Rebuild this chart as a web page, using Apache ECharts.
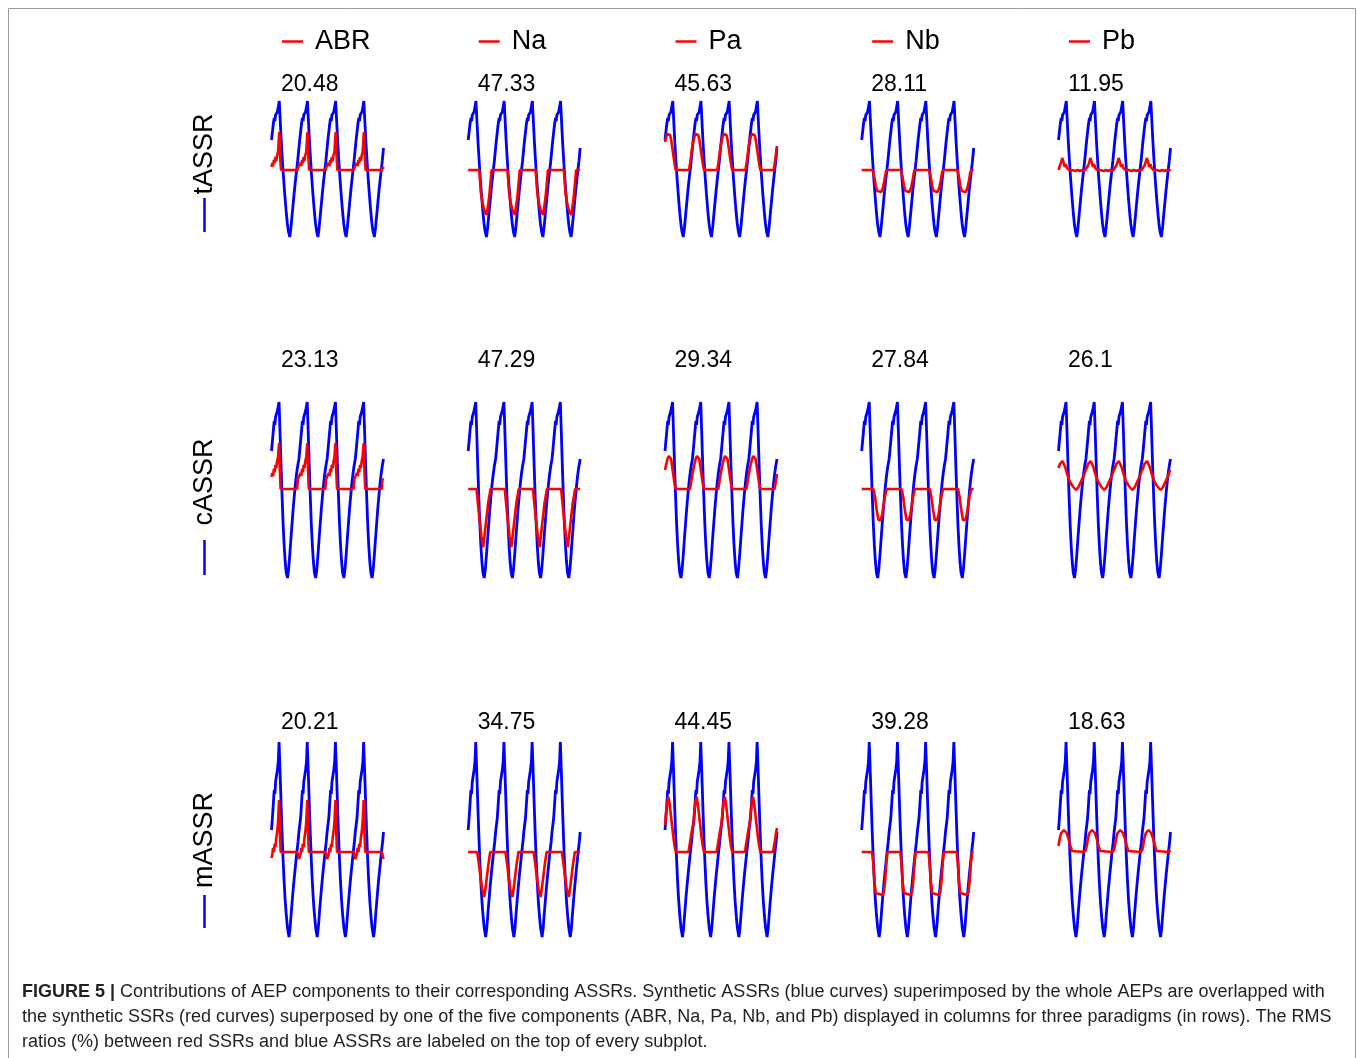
<!DOCTYPE html>
<html lang="en">
<head>
<meta charset="UTF-8">
<title>Figure 5</title>
<script src="https://cdn.jsdelivr.net/npm/echarts/dist/echarts.min.js"></script>
<style>body{margin:0;background:#fff;}</style>
</head>
<body>
<div id="graph" style="width:1357px;height:1058px;"></div>
<script>
// one 40 Hz cycle = 25 ms, each curve is [phase in ms, amplitude]
var components = ['ABR', 'Na', 'Pa', 'Nb', 'Pb'];
var paradigms = ['tASSR', 'cASSR', 'mASSR'];
var rmsRatios = [
    ['20.48', '47.33', '45.63', '28.11', '11.95'],
    ['23.13', '47.29', '29.34', '27.84', '26.1'],
    ['20.21', '34.75', '44.45', '39.28', '18.63']
];
var cycleCount = 4;
var cycleLength = 25;

// blue: synthetic ASSR of each paradigm
var blueT = [[0,0.30],[0.8,0.38],[1.6,0.46],[2.4,0.52],[3.0,0.49],[3.6,0.55],[4.4,0.53],[5.2,0.58],[6.0,0.60],[6.9,0.69],[7.8,0.48],[8.7,0.28],[9.6,0.11],[10.5,-0.05],[11.4,-0.19],[12.3,-0.32],[13.2,-0.44],[14.1,-0.54],[15.1,-0.62],[16.2,-0.67],[17.2,-0.58],[18.2,-0.46],[19.2,-0.34],[20.2,-0.22],[21.2,-0.11],[22.2,-0.01],[23.2,0.09],[24.3,0.22]];
var blueC = [[0,0.38],[0.8,0.48],[1.6,0.58],[2.4,0.68],[3.0,0.64],[3.6,0.72],[4.4,0.70],[5.2,0.78],[6.0,0.80],[6.7,0.87],[7.6,0.55],[8.5,0.22],[9.4,-0.08],[10.3,-0.35],[11.2,-0.56],[12.1,-0.72],[13.1,-0.84],[14.2,-0.89],[15.2,-0.80],[16.2,-0.66],[17.2,-0.50],[18.2,-0.35],[19.2,-0.20],[20.2,-0.07],[21.2,0.05],[22.2,0.15],[23.2,0.23],[24.3,0.30]];
var blueM = [[0,0.22],[0.8,0.34],[1.6,0.48],[2.4,0.62],[3.0,0.58],[3.6,0.70],[4.4,0.68],[5.2,0.82],[6.0,0.90],[6.7,1.10],[7.6,0.80],[8.5,0.48],[9.4,0.18],[10.3,-0.08],[11.2,-0.30],[12.1,-0.48],[13.1,-0.63],[14.2,-0.76],[15.5,-0.85],[16.5,-0.76],[17.5,-0.61],[18.5,-0.47],[19.5,-0.34],[20.5,-0.22],[21.5,-0.11],[22.5,0.0],[23.5,0.10],[24.3,0.20]];

// red: synthetic SSR with one component, tASSR row
var tAbr = [[0,0.03],[0.7,0.07],[1.4,0.04],[2.1,0.10],[2.8,0.07],[3.5,0.13],[4.2,0.09],[5.0,0.15],[5.8,0.18],[6.9,0.38],[7.6,0.15],[8.4,0],[23.0,0],[23.7,0.03],[24.3,0.01]];
var tNa = [[0,0],[9.8,0],[11.3,-0.23],[12.7,-0.33],[14.2,-0.40],[16.4,-0.45],[18.6,-0.27],[20.7,0],[24.3,0]];
var tPa = [[0,0.28],[1,0.33],[2,0.36],[3.3,0.38],[4.5,0.35],[5.5,0.30],[6.5,0.22],[7.5,0.14],[8.5,0.06],[9.5,0],[21.3,0],[22.3,0.07],[23.3,0.15],[24.3,0.24]];
var tNb = [[0,0],[9.8,0],[11.2,-0.07],[12.5,-0.16],[13.8,-0.21],[15.5,-0.23],[17.3,-0.22],[18.7,-0.18],[20,-0.11],[21.2,-0.03],[22.2,0],[24.3,0]];
var tPb = [[0,0],[1.5,0.05],[3.3,0.12],[4.4,0.08],[5.5,0.03],[6.5,0.06],[7.5,0.02],[8.5,0.04],[9.5,0],[10.5,0.02],[12,0],[13.5,0.01],[15,-0.01],[17,0],[19,-0.01],[21,0],[22.5,-0.01],[23.7,0],[24.3,-0.01]];

// cASSR row
var cAbr = [[0,0.12],[0.7,0.16],[1.4,0.13],[2.1,0.20],[2.8,0.17],[3.5,0.24],[4.2,0.21],[5.0,0.28],[5.8,0.32],[6.7,0.46],[7.4,0.18],[8.1,0],[22.7,0],[23.4,0.10],[24.3,0.09]];
var cNa = [[0,0],[7.4,0],[8.6,-0.14],[9.8,-0.28],[11.8,-0.48],[13.3,-0.58],[15.7,-0.34],[17.7,-0.14],[19.8,0],[24.3,0]];
var cPa = [[0,0.19],[1.1,0.25],[2.2,0.30],[3.3,0.33],[4.4,0.34],[5.4,0.30],[6.4,0.22],[7.4,0.14],[8.4,0.06],[9.5,0],[22.2,0],[23.2,0.07],[24.3,0.15]];
var cNb = [[0,0],[10.4,0],[11.8,-0.08],[13.3,-0.21],[14.8,-0.31],[16.8,-0.31],[18,-0.26],[19.2,-0.18],[20.7,-0.07],[22.2,0],[24.3,0]];
var cPb = [[0,0.21],[1.2,0.25],[2.4,0.27],[3.5,0.28],[4.7,0.26],[5.9,0.22],[7.1,0.17],[8.3,0.13],[9.5,0.09],[10.7,0.06],[11.9,0.04],[13.1,0.02],[14.3,0.0],[15.5,-0.01],[16.5,0.0],[17.7,0.02],[18.9,0.05],[20.1,0.08],[21.3,0.11],[22.5,0.14],[23.4,0.17],[24.3,0.19]];

// mASSR row
var mAbr = [[0,-0.06],[0.7,-0.02],[1.4,0.04],[2.1,0.0],[2.8,0.08],[3.5,0.05],[4.2,0.14],[5.0,0.20],[5.8,0.30],[6.7,0.52],[7.4,0.20],[8.1,0],[22.7,0],[23.5,-0.03],[24.3,-0.07]];
var mNa = [[0,0],[8,0],[9.5,-0.12],[11,-0.26],[12.5,-0.38],[14.2,-0.45],[15.8,-0.32],[17.5,-0.16],[19.5,0],[24.3,0]];
var mPa = [[0,0.27],[1,0.40],[2,0.50],[3.1,0.55],[4.2,0.47],[5.3,0.36],[6.4,0.25],[7.5,0.14],[8.6,0.05],[9.6,0],[20.8,0],[21.8,0.07],[22.8,0.14],[23.6,0.20],[24.3,0.24]];
var mNb = [[0,0],[9.2,0],[10.3,-0.12],[11.3,-0.30],[12.4,-0.41],[14,-0.43],[15.5,-0.42],[17,-0.44],[18.5,-0.43],[19.7,-0.40],[20.8,-0.28],[21.8,-0.12],[22.8,0],[24.3,0]];
var mPb = [[0,0.06],[1.2,0.14],[2.4,0.19],[3.6,0.21],[4.8,0.22],[6,0.21],[7.2,0.19],[8.4,0.15],[9.6,0.10],[10.8,0.05],[12,0.01],[13,0],[22.5,0],[23.5,0],[24.3,0.02]];

var blueCurves = [blueT, blueC, blueM];
var redCurves = [
    [tAbr, tNa, tPa, tNb, tPb],
    [cAbr, cNa, cPa, cNb, cPb],
    [mAbr, mNa, mPa, mNb, mPb]
];

// layout
var font = 'Liberation Sans, Arial, Helvetica, sans-serif';
var colLeft = [271.5, 468.2, 665, 861.7, 1058.5];
var plotWidth = 112;
var rows = [
    {top: 100, height: 140, min: -0.70, max: 0.70, labelTop: 73},
    {top: 399, height: 180, min: -0.90, max: 0.90, labelTop: 349},
    {top: 737, height: 203, min: -0.88, max: 1.15, labelTop: 711}
];
var rowLabelPos = [
    {y: 154, line: [198, 232]},
    {y: 482, line: [540, 575]},
    {y: 840, line: [895, 928]}
];

function repeatCycle(cycle) {
    var out = [];
    for (var k = 0; k < cycleCount; k++) {
        for (var i = 0; i < cycle.length; i++) {
            out.push([k * cycleLength + cycle[i][0], cycle[i][1]]);
        }
    }
    return out;
}

var grids = [], xs = [], ys = [], s = [], titles = [], legends = [], graphics = [];

for (var r = 0; r < 3; r++) {
    for (var c = 0; c < 5; c++) {
        var idx = r * 5 + c;
        grids.push({left: colLeft[c], top: rows[r].top, width: plotWidth, height: rows[r].height});
        xs.push({type: 'value', gridIndex: idx, min: 0, max: 99.3, show: false});
        ys.push({type: 'value', gridIndex: idx, min: rows[r].min, max: rows[r].max, show: false});
        s.push({
            type: 'line', name: paradigms[r], xAxisIndex: idx, yAxisIndex: idx,
            data: repeatCycle(blueCurves[r]), showSymbol: false, symbol: 'none', clip: false,
            lineStyle: {color: '#0000ff', width: 2.8}, itemStyle: {color: '#0000ff'}, z: 2
        });
        s.push({
            type: 'line', name: components[c], xAxisIndex: idx, yAxisIndex: idx,
            data: repeatCycle(redCurves[r][c]), showSymbol: false, symbol: 'none', clip: false,
            lineStyle: {color: '#ff0000', width: 2.6}, itemStyle: {color: '#ff0000'}, z: 3
        });
        titles.push({
            text: rmsRatios[r][c], left: colLeft[c] + 9.5, top: rows[r].labelTop, padding: 0,
            textStyle: {fontSize: 23, fontWeight: 'normal', color: '#000', fontFamily: font}
        });
    }
}

for (var c = 0; c < 5; c++) {
    legends.push({
        data: [components[c]], left: colLeft[c] + 10.5, top: 28, padding: 0,
        icon: 'rect', itemWidth: 21, itemHeight: 2.5, selectedMode: false,
        textStyle: {fontSize: 27, color: '#000', fontFamily: font, padding: [0, 0, 0, 7]}
    });
}

graphics.push({
    type: 'rect', shape: {x: 8.5, y: 8.5, width: 1347, height: 1070},
    style: {fill: 'none', stroke: '#9a9a9a', lineWidth: 1}, silent: true
});

for (var r = 0; r < 3; r++) {
    graphics.push({
        type: 'text', x: 205, y: rowLabelPos[r].y, rotation: Math.PI / 2,
        style: {text: paradigms[r], fontSize: 27, fontFamily: font, fill: '#000',
            align: 'center', verticalAlign: 'middle', textAlign: 'center', textVerticalAlign: 'middle'}
    });
    graphics.push({
        type: 'line',
        shape: {x1: 204.5, y1: rowLabelPos[r].line[0], x2: 204.5, y2: rowLabelPos[r].line[1]},
        style: {stroke: '#0000ff', lineWidth: 2.5}
    });
}

graphics.push({
    type: 'text', left: 22, top: 980,
    style: {
        text: '{b|FIGURE 5 |} Contributions of AEP components to their corresponding ASSRs. Synthetic ASSRs (blue curves) superimposed by the whole AEPs are overlapped with\n' +
            'the synthetic SSRs (red curves) superposed by one of the five components (ABR, Na, Pa, Nb, and Pb) displayed in columns for three paradigms (in rows). The RMS\n' +
            'ratios (%) between red SSRs and blue ASSRs are labeled on the top of every subplot.',
        fontSize: 18, fontFamily: font, fill: '#231f20', lineHeight: 25,
        rich: {b: {fontWeight: 'bold', fontSize: 18, fontFamily: font, fill: '#231f20', lineHeight: 25}}
    }
});

var myChart = echarts.init(document.getElementById('graph'));
var option = {
    backgroundColor: '#fff',
    animation: false,
    title: titles,
    legend: legends,
    grid: grids,
    xAxis: xs,
    yAxis: ys,
    series: s,
    graphic: graphics
};
myChart.setOption(option);
</script>
</body>
</html>
